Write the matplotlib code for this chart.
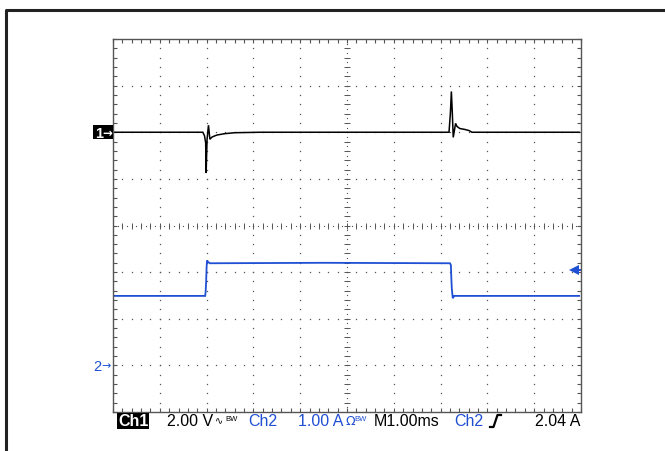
import numpy as np
import matplotlib
matplotlib.use("Agg")
import matplotlib.pyplot as plt
import matplotlib.transforms as mtransforms
from matplotlib.patches import Rectangle
from matplotlib.lines import Line2D

# ---------------- data (time in ms, 1 ms/div, 10 divs) ----------------
ch1_t = [0.00, 1.92, 1.955, 1.98, 1.99, 2.01, 2.04, 2.07, 2.12, 2.22, 2.39, 2.60, 3.14,
         7.18, 7.21, 7.23, 7.25, 7.27, 7.32, 7.35, 7.41, 7.52, 7.61, 7.67, 9.96]
ch1_v = [0.00, 0.00, -0.15, -0.45, -1.75, -0.30, 0.30, -0.30, -0.20, -0.12, -0.06, -0.02, 0.00,
         0.00, 0.85, 1.75, 0.85, -0.22, 0.38, 0.25, 0.16, 0.12, 0.07, 0.00, 0.00]

ch2_t = [0.00, 1.97, 1.98, 1.99, 2.00, 2.01, 2.03, 2.07, 4.50, 7.20, 7.22, 7.23, 7.24, 7.26, 7.29, 9.96]
ch2_i = [1.49, 1.49, 1.59, 1.79, 2.11, 2.25, 2.22, 2.19, 2.20, 2.19, 2.15, 1.85, 1.64, 1.44, 1.49, 1.49]

ch1_scale = 2.00      # V/div
ch2_scale = 1.00      # A/div
ch1_pos = 2.0         # divisions
ch2_pos = -3.0
trig_level = 2.04     # A

readout = ["Ch1", "2.00 V", "Ch2", "1.00 A", "M1.00ms", "Ch2", "2.04 A"]

# ---------------- figure ----------------
W, H = 665, 452
fig = plt.figure(figsize=(W / 100, H / 100), dpi=100)
fig.patch.set_facecolor("white")
PX = mtransforms.Affine2D().scale(1 / W, -1 / H).translate(0, 1) + fig.transFigure

BLUE = "#1f4fd2"
GRID = "#555555"
FONT = "Liberation Sans"

# outer frame (top and left)
fig.add_artist(Line2D([5.5, 5.5, 665], [452, 10.5, 10.5], transform=PX, color="#222222", lw=2.2))

L, R, T, B = 113, 581, 40, 413
ax = fig.add_axes([L / W, 1 - B / H, (R - L) / W, (B - T) / H])
ax.set_xlim(0, 10)
ax.set_ylim(-4, 4)
for s in ax.spines.values():
    s.set_color(GRID)
    s.set_linewidth(1.0)

ax.set_xticks(np.arange(0, 10.01, 1.0))
ax.set_yticks(np.arange(-4, 4.01, 1.0))
ax.set_xticks(np.arange(0, 10.01, 0.2), minor=True)
ax.set_yticks(np.arange(-4, 4.01, 0.2), minor=True)
ax.tick_params(which="both", direction="in", top=True, right=True, labelbottom=False,
               labelleft=False, length=3, width=0.8, color=GRID)

# dotted graticule
dots_y = np.arange(-4, 4.001, 0.2)
dots_x = np.arange(0, 10.001, 0.2)
for xi in range(1, 10):
    if xi == 5:
        continue
    ax.plot(np.full_like(dots_y, xi), dots_y, ls="", marker="s", ms=0.9, mew=0, color=GRID)
for yi in range(-3, 4):
    if yi == 0:
        continue
    ax.plot(dots_x, np.full_like(dots_x, yi), ls="", marker="s", ms=0.9, mew=0, color=GRID)

# centre cross
fine_y = np.arange(-4, 4.001, 0.1)
fine_x = np.arange(0, 10.001, 0.1)
ax.plot(np.full_like(fine_y, 5), fine_y, ls="", marker="s", ms=0.8, mew=0, color=GRID)
ax.plot(fine_x, np.zeros_like(fine_x), ls="", marker="s", ms=0.8, mew=0, color=GRID)
ax.plot(np.full_like(dots_y, 5), dots_y, ls="", marker="_", ms=4.5, mew=0.7, color=GRID)
ax.plot(dots_x, np.zeros_like(dots_x), ls="", marker="|", ms=4.5, mew=0.7, color=GRID)

# traces
y1 = ch1_pos + np.array(ch1_v) / ch1_scale
y2 = ch2_pos + np.array(ch2_i) / ch2_scale
ax.plot(ch2_t, y2, color=BLUE, lw=1.3, solid_joinstyle="miter")
ax.plot(ch1_t, y1, color="black", lw=1.1, solid_joinstyle="miter")

# trigger level arrow on right edge
ty = ch2_pos + trig_level / ch2_scale
ax.plot([9.85, 10.0], [ty, ty], color=BLUE, lw=1.4, clip_on=False)
ax.plot([9.86], [ty], marker="<", ms=7, color=BLUE, mew=0, clip_on=False)

# channel ground markers
y1px = 226.5 - ch1_pos * (B - T) / 8
y2px = 226.5 - ch2_pos * (B - T) / 8
fig.add_artist(Rectangle((93, y1px - 7), 20, 14, transform=PX, color="black", lw=0))
fig.text(95, y1px + 0.5, "1", transform=PX, color="white", fontsize=10.5, fontweight="bold",
         family=FONT, va="center", ha="left")
fig.text(102.5, y1px, "→", transform=PX, color="white", fontsize=8.5, family="DejaVu Sans",
         va="center", ha="left", fontweight="bold")
fig.text(93, y2px + 0.5, "2", transform=PX, color=BLUE, fontsize=10.5, family=FONT, va="center", ha="left")
fig.text(101.5, y2px, "→", transform=PX, color=BLUE, fontsize=8, family="DejaVu Sans",
         va="center", ha="left")

# readout line
ry = 422
fs = 11.5
fig.text(118, ry, readout[0], transform=PX, color="white", fontsize=fs, family=FONT,
         fontweight="bold", va="center", ha="left",
         bbox=dict(boxstyle="square,pad=0.06", fc="black", ec="none"))
fig.text(167, ry, readout[1], transform=PX, color="black", fontsize=fs, family=FONT, va="center", ha="left")
fig.text(214.5, ry - 1, "∿", transform=PX, color="black", fontsize=7, family="DejaVu Sans", va="center", ha="left")
fig.text(225, ry - 2, "BW", transform=PX, color="black", fontsize=5.5, family=FONT, va="center", ha="left")
fig.text(248, ry, readout[2], transform=PX, color=BLUE, fontsize=fs, family=FONT, va="center", ha="left")
fig.text(298, ry, readout[3], transform=PX, color=BLUE, fontsize=fs, family=FONT, va="center", ha="left")
fig.text(345.5, ry, "Ω", transform=PX, color=BLUE, fontsize=9, family="DejaVu Sans", va="center", ha="left")
fig.text(354, ry - 2, "BW", transform=PX, color=BLUE, fontsize=5.5, family=FONT, va="center", ha="left")
fig.text(374, ry, readout[4], transform=PX, color="black", fontsize=fs, family=FONT, va="center", ha="left")
fig.text(454, ry, readout[5], transform=PX, color=BLUE, fontsize=fs, family=FONT, va="center", ha="left")
fig.add_artist(Line2D([490, 493.5, 497.5, 501], [428, 428, 416, 416], transform=PX,
                      color="black", lw=1.6))
fig.text(580, ry, readout[6], transform=PX, color="black", fontsize=fs, family=FONT, va="center", ha="right")

fig.savefig("out.png", dpi=100, facecolor="white")
